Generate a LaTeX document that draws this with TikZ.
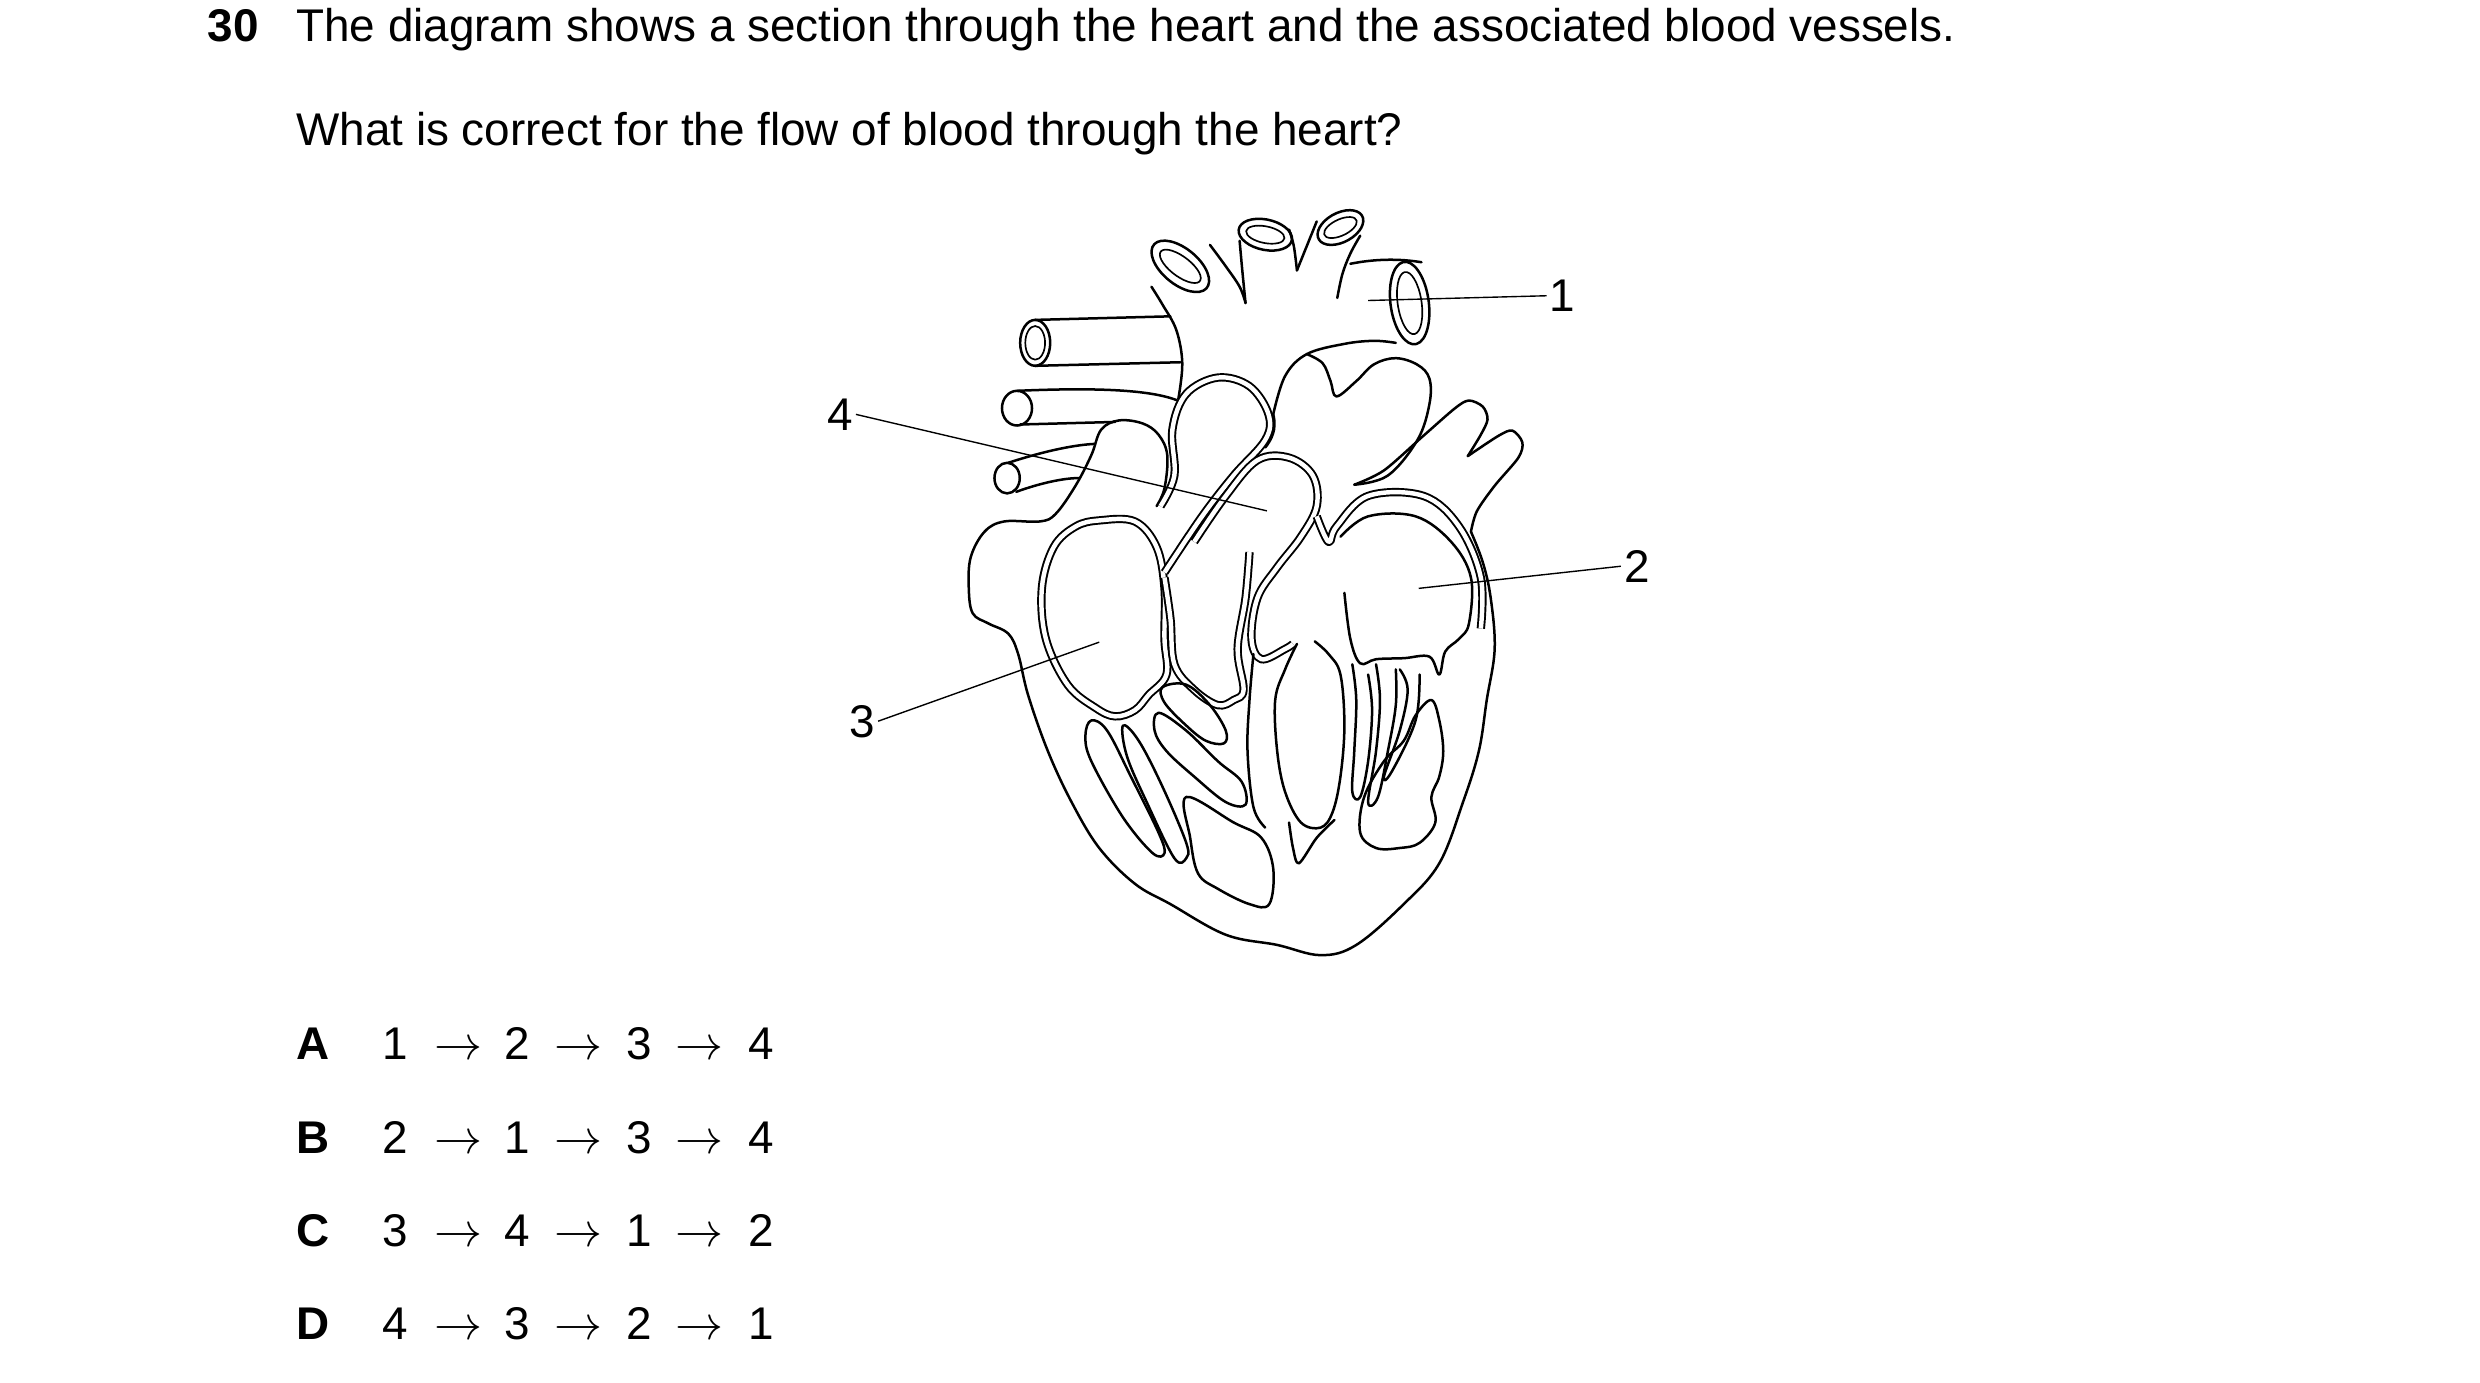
\documentclass[tikz,border=0pt]{standalone}
\usepackage{fontspec}
\setmainfont{Liberation Sans}
\begin{document}
\begin{tikzpicture}[x=0.02cm,y=-0.02cm,
  txt/.style={anchor=base west,inner sep=0pt,font=\fontsize{16.5}{20}\selectfont},
  sq/.style={anchor=base,inner sep=0pt,font=\fontsize{16.5}{20}\selectfont},
  lbl/.style={anchor=center,inner sep=1pt,font=\fontsize{16.5}{20}\selectfont},
  hl/.style={line width=0.9pt,line join=round,line cap=round},
  wall/.style={draw=black,double=white,double distance=1.6pt,line width=0.7pt,line join=round},
  lead/.style={line width=0.5pt}]
\useasboundingbox (0,0) rectangle (1568,874);
\node[txt,font=\fontsize{16.5}{20}\selectfont\bfseries] (q) at (131,26) {30};
\node[txt] (t1) at (187,26) {The diagram shows a section through the heart and the associated blood vessels.};
\node[txt] (t2) at (187,92) {What is correct for the flow of blood through the heart?};
\foreach \L/\a/\b/\c/\d [count=\i] in {A/1/2/3/4,B/2/1/3/4,C/3/4/1/2,D/4/3/2/1}{
  \node[txt,font=\fontsize{16.5}{20}\selectfont\bfseries] (opt\L) at (187,611+59*\i) {\L};
  \node[sq] (s\L1) at (250,611+59*\i) {\a};
  \node[sq] (s\L2) at (327,611+59*\i) {\b};
  \node[sq] (s\L3) at (404,611+59*\i) {\c};
  \node[sq] (s\L4) at (481,611+59*\i) {\d};
  \node[sq] (a\L1) at (290,611+59*\i) {$\rightarrow$};
  \node[sq] (a\L2) at (366,611+59*\i) {$\rightarrow$};
  \node[sq] (a\L3) at (442,611+59*\i) {$\rightarrow$};
}
% heart, traced in zoom coordinates
\begin{scope}[shift={(600,120)},xscale=0.25,yscale=0.3226]
\draw[hl] plot[smooth,tension=0.6] coordinates {(525,620) (545,585) (552,520) (530,480) (490,458) (430,452) (385,470) (360,520) (320,580) (270,635) (230,650) (140,650) (90,670) (55,720) (50,780) (60,830) (100,850) (150,870) (175,910) (200,990) (250,1100) (310,1200) (380,1290) (470,1360) (560,1400) (700,1460) (830,1480) (940,1500) (1030,1480) (1150,1400) (1240,1320) (1300,1200) (1340,1100) (1360,1000) (1380,900) (1370,800) (1350,730) (1320,670)};
\draw[hl] plot[smooth,tension=0.5] coordinates {(1320,670) (1335,630) (1380,580) (1440,525) (1450,495) (1425,472) (1390,482) (1312,522)};
\draw[hl] plot[smooth,tension=0.5] coordinates {(1312,522) (1345,480) (1362,450) (1350,425) (1315,413) (1280,428) (1200,482) (1100,550) (1025,578)};
\draw[hl] plot[smooth,tension=0.6] coordinates {(1025,578) (1110,560) (1185,490) (1215,420) (1215,370) (1185,343) (1130,330) (1075,342) (1030,375) (980,405) (965,375) (945,340) (905,322)};
\draw[hl] plot[smooth,tension=0.6] coordinates {(820,440) (850,365) (905,322) (1000,302) (1075,296) (1130,300)};
\draw[hl] (820,440) .. controls (830,470) and (815,490) .. (800,505);
\draw[hl] plot[smooth,tension=0.6] coordinates {(580,410) (590,340) (575,275) (540,225) (512,190)};
\draw[hl] plot[smooth,tension=0.6] coordinates {(660,108) (700,150) (735,190) (750,222)};
\draw[hl] plot[smooth,tension=0.6] coordinates {(750,222) (742,160) (735,100)};
\draw[hl] plot[smooth,tension=0.6] coordinates {(860,78) (872,110) (880,158)};
\draw[hl] plot[smooth,tension=0.6] coordinates {(880,158) (905,110) (930,62)};
\draw[hl] plot[smooth,tension=0.6] coordinates {(1040,90) (1015,125) (995,165) (982,212)};
\draw[hl] (1015,145) .. controls (1080,135) and (1140,135) .. (1195,142);
\foreach \x/\y/\a/\b/\r in {585/150/80/38/-28, 800/88/68/30/-8, 990/74/60/30/18}{
  \draw[hl] (\x,\y) ellipse[x radius=\a,y radius=\b,rotate=\r];
  \draw[hl,line width=0.6pt] (\x,\y) ellipse[x radius=0.72*\a,y radius=0.55*\b,rotate=\r];
}
\draw[hl] (1165,222) ellipse[x radius=48,y radius=82,rotate=12];
\draw[hl,line width=0.6pt] (1165,222) ellipse[x radius=30,y radius=62,rotate=12];
\draw[hl] (218,300) ellipse[x radius=38,y radius=45];
\draw[hl,line width=0.6pt] (218,300) ellipse[x radius=25,y radius=33];
\draw[hl] (218,255) -- (560,248); \draw[hl] (218,345) -- (585,338);
\draw[hl] (172,428) ellipse[x radius=38,y radius=34];
\draw[hl] (172,394) .. controls (350,388) and (500,390) .. (575,412);
\draw[hl] (180,460) -- (420,455);
\draw[hl] (147,565) ellipse[x radius=32,y radius=30];
\draw[hl] (150,535) .. controls (250,510) and (320,500) .. (368,498);
\draw[hl] (170,592) .. controls (230,575) and (290,565) .. (328,565);
\draw[wall] plot[smooth cycle,tension=0.6] coordinates {(380,648) (470,650) (525,700) (545,780) (545,880) (550,950) (505,990) (470,1020) (420,1032) (370,1015) (300,970) (245,880) (235,780) (265,700) (320,660)};
\draw[wall] plot[smooth,tension=0.6] coordinates {(535,620) (570,560) (565,470) (600,400) (680,368) (760,385) (808,440) (800,490) (720,560) (640,640) (545,750)};
\draw[wall] plot[smooth,tension=0.6] coordinates {(620,690) (700,600) (780,530) (860,525) (920,560) (930,620) (890,680) (830,740) (780,800) (765,880) (790,920) (850,900) (870,890)};
\draw[wall] plot[smooth,tension=0.6] coordinates {(545,760) (560,840) (570,930) (620,980) (680,1010) (720,1000) (745,980) (730,900) (750,800) (760,710)};
\draw[wall] plot[smooth,tension=0.6] coordinates {(930,640) (960,690) (980,660) (1060,600) (1200,600) (1290,660) (1345,760) (1345,860)};
\draw[hl] plot[smooth,tension=0.6] coordinates {(990,680) (1060,640) (1180,640) (1270,690) (1320,760) (1315,850) (1290,880) (1255,905) (1240,950) (1215,915) (1150,918) (1080,920) (1040,928) (1015,880) (1000,790)};
\draw[hl] plot[smooth cycle,tension=0.6] coordinates {(540,975) (600,970) (660,1010) (700,1060) (695,1085) (650,1080) (600,1050) (545,1005)};
\draw[hl] plot[smooth cycle,tension=0.6] coordinates {(530,1025) (600,1060) (680,1120) (740,1160) (750,1205) (700,1200) (620,1150) (550,1100) (520,1060)};
\draw[hl] plot[smooth cycle,tension=0.6] coordinates {(360,1040) (400,1060) (460,1150) (530,1260) (545,1300) (515,1300) (440,1230) (360,1120) (345,1070)};
\draw[hl] plot[smooth cycle,tension=0.6] coordinates {(440,1050) (480,1080) (540,1170) (600,1280) (600,1310) (570,1310) (500,1200) (450,1110)};
\draw[hl] plot[smooth cycle,tension=0.6] coordinates {(600,1190) (720,1240) (790,1270) (820,1330) (810,1400) (760,1400) (680,1370) (630,1340) (610,1270)};
\draw[hl] plot[smooth,tension=0.6] coordinates {(770,910) (760,1000) (755,1100) (770,1210) (800,1250)};
\draw[hl] plot[smooth,tension=0.6] coordinates {(880,890) (850,940) (825,1000) (830,1100) (850,1180) (890,1240) (940,1250) (970,1220) (990,1150) (1000,1050) (990,950) (960,910) (925,885)};
\draw[hl] plot[smooth,tension=0.5] coordinates {(860,1240) (870,1290) (885,1320) (930,1270) (975,1235)};
\draw[hl] plot[smooth,tension=0.6] coordinates {(1020,930) (1030,1000) (1025,1100) (1020,1180) (1040,1190) (1060,1120) (1070,1020) (1060,950)};
\draw[hl] plot[smooth,tension=0.6] coordinates {(1080,930) (1090,1000) (1080,1100) (1060,1200) (1085,1190) (1110,1100) (1130,1010) (1130,940)};
\draw[hl] plot[smooth,tension=0.6] coordinates {(1140,940) (1160,980) (1140,1060) (1100,1150) (1120,1140) (1180,1040) (1190,950)};
\draw[hl] plot[smooth cycle,tension=0.6] coordinates {(1180,1030) (1220,1000) (1240,1040) (1250,1100) (1240,1150) (1220,1190) (1230,1240) (1190,1280) (1140,1290) (1080,1290) (1040,1260) (1050,1190) (1100,1120) (1150,1080)};
\end{scope}
\coordinate (p1) at (865,190); \coordinate (p2) at (897,372);
\coordinate (p3) at (695,406); \coordinate (p4) at (801,323);
\node[lbl] (n1) at (988,187) {1};
\node[lbl] (n2) at (1035,358) {2};
\node[lbl] (n3) at (545,456) {3};
\node[lbl] (n4) at (531,262) {4};
\draw[lead] (p1) -- (n1.west);
\draw[lead] (p2) -- (n2.west);
\draw[lead] (p3) -- (n3.east);
\draw[lead] (p4) -- (n4.east);
\end{tikzpicture}
\end{document}
